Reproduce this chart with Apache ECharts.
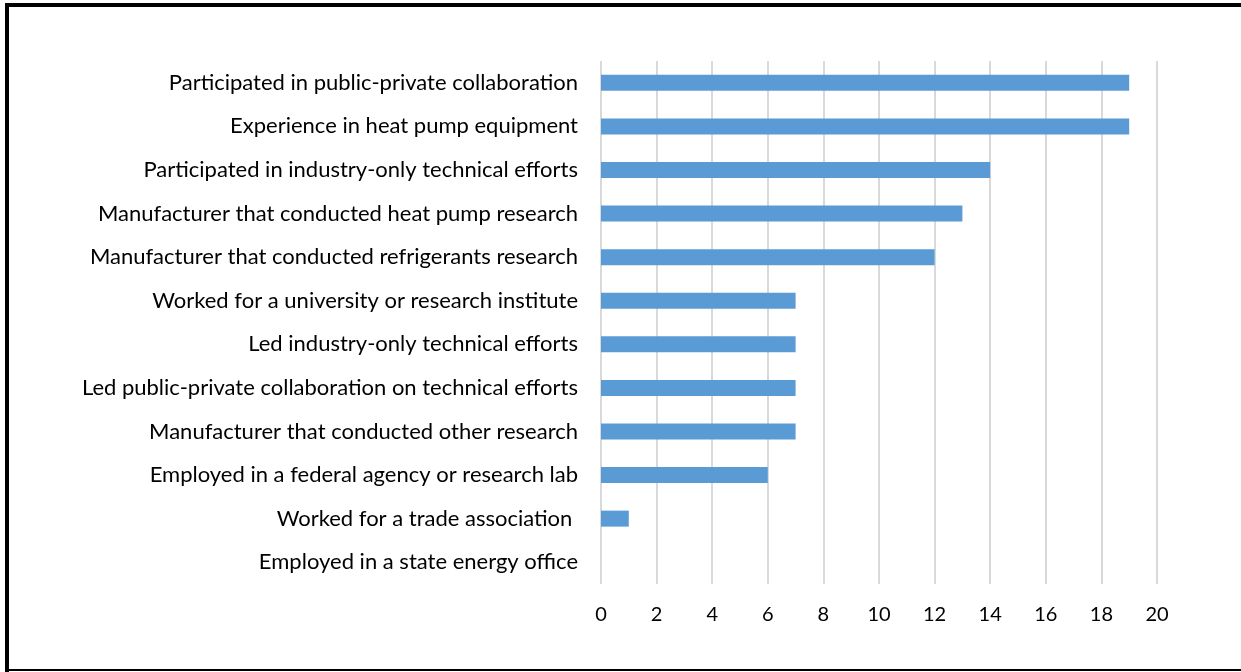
<!DOCTYPE html>
<html>
<head>
<meta charset="utf-8">
<script src="https://cdn.jsdelivr.net/npm/echarts@6/dist/echarts.min.js"></script>
<style>
  html, body { margin: 0; padding: 0; background: #fff; }
  #chart { width: 1241px; height: 672px; }
</style>
</head>
<body>
<div id="chart"></div>
<script>
// categories top to bottom
const categories = [
  'Participated in public-private collaboration',
  'Experience in heat pump equipment',
  'Participated in industry-only technical efforts',
  'Manufacturer that conducted heat pump research',
  'Manufacturer that conducted refrigerants research',
  'Worked for a university or research institute',
  'Led industry-only technical efforts',
  'Led public-private collaboration on technical efforts',
  'Manufacturer that conducted other research',
  'Employed in a federal agency or research lab',
  'Worked for a trade association ',
  'Employed in a state energy office'
];
const counts = [19, 19, 14, 13, 12, 7, 7, 7, 7, 6, 1, 0];
const xTicks = [0, 2, 4, 6, 8, 10, 12, 14, 16, 18, 20];

const chart = echarts.init(document.getElementById('chart'));

const font = 'Lato';

const option = {
  backgroundColor: '#fff',
  animation: false,
  grid: {
    left: 601,
    right: 84,
    top: 61,
    bottom: 88
  },
  xAxis: {
    type: 'value',
    min: xTicks[0],
    max: xTicks[xTicks.length - 1],
    interval: 2,
    axisLine: { show: false },
    axisTick: { show: false },
    axisLabel: {
      color: '#000',
      fontFamily: font,
      fontSize: 20,
      margin: 21
    },
    splitLine: {
      show: true,
      lineStyle: { color: '#d9d9d9', width: 2 }
    }
  },
  yAxis: {
    type: 'category',
    inverse: true,
    data: categories,
    axisLine: { show: false },
    axisTick: { show: false },
    axisLabel: {
      color: '#000',
      fontFamily: font,
      fontSize: 22,
      margin: 23
    },
    splitLine: { show: false }
  },
  series: [
    {
      type: 'bar',
      data: counts,
      barWidth: 16,
      itemStyle: { color: '#5b9bd5' }
    }
  ],
  graphic: [
    // frame round the picture (top, left, bottom edges)
    { type: 'rect', shape: { x: 5, y: 3, width: 1236, height: 4 }, style: { fill: '#000' } },
    { type: 'rect', shape: { x: 5, y: 3, width: 4, height: 669 }, style: { fill: '#000' } },
    { type: 'rect', shape: { x: 5, y: 669, width: 1236, height: 2 }, style: { fill: '#000' } }
  ]
};

chart.setOption(option);
</script>
</body>
</html>
